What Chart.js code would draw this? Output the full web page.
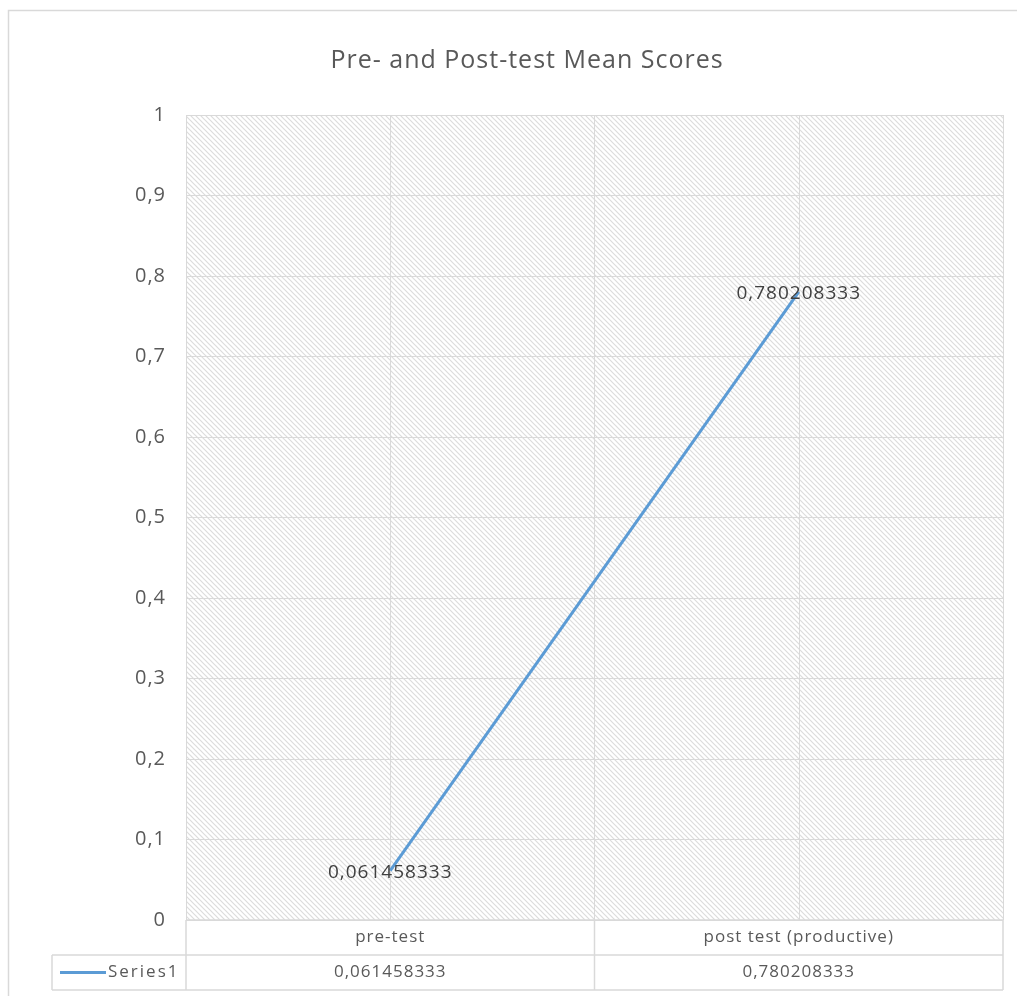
<!DOCTYPE html>
<html>
<head>
<meta charset="utf-8">
<script src="https://cdn.jsdelivr.net/npm/chart.js@4.4.1/dist/chart.umd.min.js"></script>
<style>
html, body { margin: 0; padding: 0; background: #fff; }
#wrap { width: 1017px; height: 996px; }
</style>
</head>
<body>
<div id="wrap"><canvas id="means"></canvas></div>
<script>
// data
var categories = ['pre-test', 'post test (productive)'];
var seriesName = 'Series1';
var meanScores = [0.061458333, 0.780208333];
var yTickLabels = ['0', '0,1', '0,2', '0,3', '0,4', '0,5', '0,6', '0,7', '0,8', '0,9', '1'];

var FONT = '"Open Sans", sans-serif';
var GRID = '#d9d9d9';
var LINE = '#5b9bd5';

function comma(v) {
	return String(v).replace('.', ',');
}

// wide downward diagonal fill, like the excel plot area
function hatch() {
	var c = document.createElement('canvas');
	c.width = 5; c.height = 5;
	var g = c.getContext('2d');
	g.strokeStyle = '#dcdcdc';
	g.lineWidth = 1.2;
	g.beginPath();
	g.moveTo(-1, -1); g.lineTo(6, 6);
	g.moveTo(-1, 4); g.lineTo(1, 6);
	g.moveTo(4, -1); g.lineTo(6, 1);
	g.stroke();
	return g.createPattern(c, 'repeat');
}

var background = {
	id: 'background',
	beforeDraw: function(chart) {
		var ctx = chart.ctx, a = chart.chartArea;
		// excel text is set loose, keep it for the whole draw
		ctx.letterSpacing = '1px';
		ctx.save();
		ctx.fillStyle = '#fff';
		ctx.fillRect(0, 0, chart.width, chart.height);
		ctx.strokeStyle = GRID;
		ctx.lineWidth = 1.5;
		ctx.beginPath();
		ctx.moveTo(8.5, chart.height);
		ctx.lineTo(8.5, 10.5);
		ctx.lineTo(chart.width, 10.5);
		ctx.stroke();
		ctx.fillStyle = hatch();
		ctx.fillRect(a.left, a.top, a.right - a.left, a.bottom - a.top);
		ctx.restore();
	},
	beforeDatasetsDraw: function(chart) {
		// minor vertical gridlines through the categories
		var ctx = chart.ctx, a = chart.chartArea, x = chart.scales.x;
		ctx.save();
		ctx.strokeStyle = GRID;
		ctx.lineWidth = 1;
		categories.forEach(function(c, i) {
			var px = Math.round(x.getPixelForValue(i)) + 0.5;
			ctx.beginPath();
			ctx.moveTo(px, a.top);
			ctx.lineTo(px, a.bottom);
			ctx.stroke();
		});
		ctx.restore();
	}
};

var pointLabels = {
	id: 'pointLabels',
	afterDatasetsDraw: function(chart) {
		var ctx = chart.ctx;
		var meta = chart.getDatasetMeta(0);
		ctx.save();
		ctx.font = '19px ' + FONT;
		ctx.letterSpacing = '1px';
		ctx.fillStyle = '#404040';
		ctx.textAlign = 'center';
		ctx.textBaseline = 'middle';
		meta.data.forEach(function(pt, i) {
			ctx.fillText(comma(meanScores[i]), pt.x, pt.y + 2);
		});
		ctx.restore();
	}
};

var dataTable = {
	id: 'dataTable',
	afterDraw: function(chart) {
		var ctx = chart.ctx, a = chart.chartArea, x = chart.scales.x;
		var rowH = 35;
		var r1 = a.bottom, r2 = a.bottom + rowH, r3 = a.bottom + 2 * rowH;
		var mid = (x.getPixelForValue(0) + x.getPixelForValue(1)) / 2;
		ctx.save();
		ctx.strokeStyle = GRID;
		ctx.lineWidth = 1.5;
		ctx.beginPath();
		ctx.moveTo(a.left, r1); ctx.lineTo(a.right, r1);
		ctx.moveTo(52, r2); ctx.lineTo(a.right, r2);
		ctx.moveTo(52, r3); ctx.lineTo(a.right, r3);
		ctx.moveTo(52, r2); ctx.lineTo(52, r3);
		ctx.moveTo(a.left, r1); ctx.lineTo(a.left, r3);
		ctx.moveTo(mid, r1); ctx.lineTo(mid, r3);
		ctx.moveTo(a.right, r1); ctx.lineTo(a.right, r3);
		ctx.stroke();

		var cy = (r2 + r3) / 2;
		ctx.strokeStyle = LINE;
		ctx.lineWidth = 3;
		ctx.beginPath();
		ctx.moveTo(60, cy); ctx.lineTo(106, cy);
		ctx.stroke();

		ctx.font = '17px ' + FONT;
		ctx.letterSpacing = '1px';
		ctx.fillStyle = '#595959';
		ctx.textBaseline = 'middle';
		ctx.textAlign = 'center';
		meanScores.forEach(function(v, i) {
			ctx.fillText(comma(v), x.getPixelForValue(i), cy);
		});
		ctx.textAlign = 'left';
		ctx.letterSpacing = '2px';
		ctx.fillText(seriesName, 108, cy);
		ctx.restore();
	}
};

var ctx = document.getElementById('means');
var myChart = new Chart(ctx, {
	type: 'line',
	data: {
		labels: categories,
		datasets: [{
			label: seriesName,
			data: meanScores,
			borderColor: LINE,
			borderWidth: 3,
			pointRadius: 0,
			tension: 0,
			fill: false
		}]
	},
	plugins: [background, pointLabels, dataTable],
	options: {
		responsive: true,
		maintainAspectRatio: false,
		animation: false,
		// left padding pushes the title centre right, the y axis width takes it back
		layout: { padding: { top: 0, right: 14, bottom: 6, left: 51 } },
		plugins: {
			legend: { display: false },
			tooltip: { enabled: false },
			title: {
				display: true,
				text: 'Pre- and Post-test Mean Scores',
				color: '#595959',
				font: { family: FONT, size: 25, weight: 'normal' },
				padding: { top: 46, bottom: 39 }
			}
		},
		scales: {
			x: {
				offset: true,
				grid: { color: GRID, offset: true, drawTicks: false },
				border: { display: false },
				ticks: { color: '#595959', font: { family: FONT, size: 17 }, padding: 7 },
				afterFit: function(scale) { scale.height = 70; }
			},
			y: {
				min: 0,
				max: 1,
				grid: { color: GRID, drawTicks: false },
				border: { display: false },
				ticks: {
					stepSize: 0.1,
					color: '#595959',
					font: { family: FONT, size: 20 },
					padding: 20,
					callback: function(v, i) { return yTickLabels[i]; }
				},
				afterFit: function(scale) { scale.width = 135; }
			}
		}
	}
});
</script>
</body>
</html>
